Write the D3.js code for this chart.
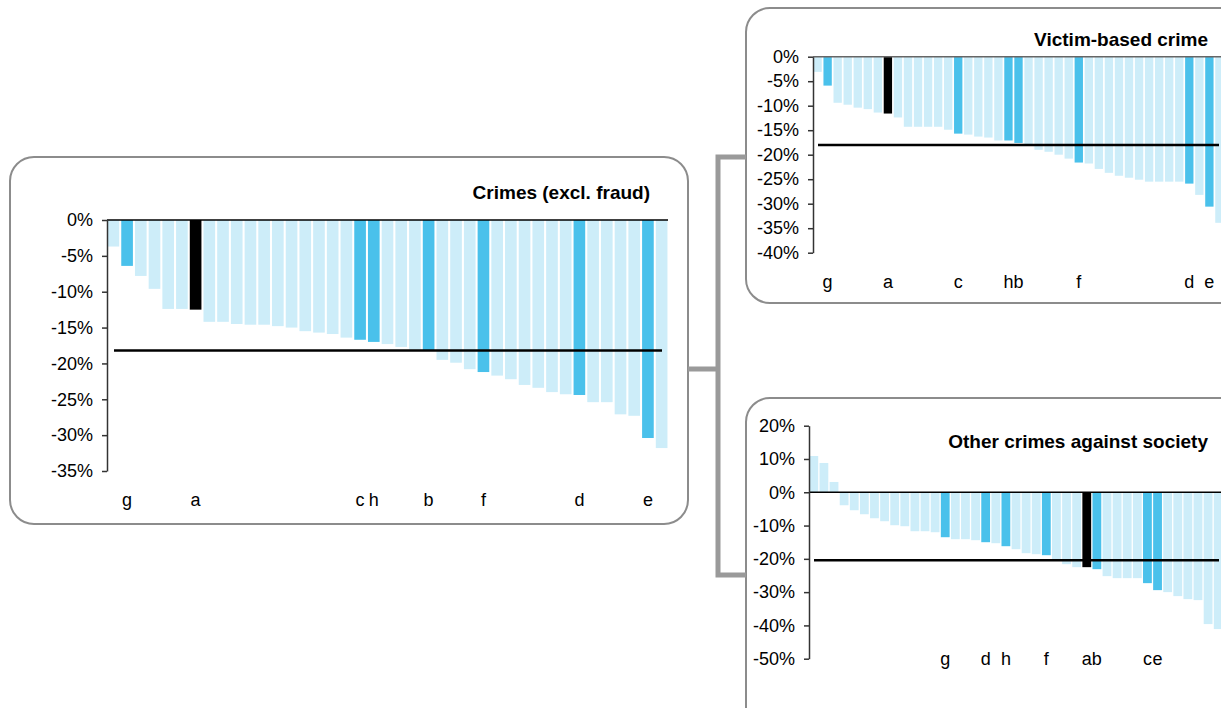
<!DOCTYPE html>
<html>
<head>
  <title>Crime change by area</title>
  <script src="https://d3js.org/d3.v7.min.js"></script>
  <style>
    body { margin: 0; background: #fff; }
    svg text { font-family: "Liberation Sans", Arial, sans-serif; fill: #000; }
    .tick text { font-size: 18px; }
    .title { font-size: 19px; font-weight: bold; }
    .cat { font-size: 18px; }
  </style>
</head>
<body>
<div id="chart"></div>
<script>
// Crimes (excl. fraud) - % change, 41 areas sorted
const mainValues = [-3.7, -6.4, -7.8, -9.6, -12.4, -12.4, -12.5, -14.2, -14.2, -14.5, -14.6, -14.6, -14.8, -15.0,
  -15.5, -15.7, -15.9, -16.4, -16.7, -17.0, -17.3, -17.7, -18.1, -18.2, -19.5, -19.9, -20.8, -21.2, -21.7,
  -22.2, -23.0, -23.4, -24.0, -24.3, -24.4, -25.4, -25.4, -27.1, -27.3, -30.4, -31.8];
const mainLabels = ["", "g", "", "", "", "", "a", "", "", "", "", "", "", "", "", "", "", "", "c", "h", "", "", "", "b",
  "", "", "", "f", "", "", "", "", "", "", "d", "", "", "", "", "e", ""];
const mainAverage = -18.2;
const mainTicks = [0, -5, -10, -15, -20, -25, -30, -35];

// Victim-based crime
const victimValues = [-3.1, -5.9, -9.4, -9.8, -10.4, -10.7, -11.4, -11.6, -12.4, -14.3, -14.3, -14.3, -14.3, -14.9,
  -15.7, -15.9, -16.3, -16.5, -17.1, -17.1, -17.6, -18.0, -19.0, -19.4, -20.0, -20.8, -21.6, -21.8, -22.9,
  -23.7, -24.3, -24.7, -25.1, -25.5, -25.5, -25.5, -25.5, -25.9, -28.2, -30.6, -33.9];
const victimLabels = ["", "g", "", "", "", "", "", "a", "", "", "", "", "", "", "c", "", "", "", "", "h", "b", "", "", "",
  "", "", "f", "", "", "", "", "", "", "", "", "", "", "d", "", "e", ""];
const victimAverage = -18.0;
const victimTicks = [0, -5, -10, -15, -20, -25, -30, -35, -40];

// Other crimes against society
const societyValues = [10.9, 8.8, 3.1, -3.9, -5.4, -6.6, -7.8, -8.7, -9.9, -10.2, -11.7, -11.7, -12.0, -13.5,
  -14.1, -14.1, -14.4, -15.0, -15.3, -16.2, -17.1, -18.3, -18.6, -18.9, -20.2, -21.6, -22.5, -22.5, -23.1,
  -25.2, -25.8, -25.8, -25.8, -27.3, -29.4, -30.0, -31.2, -32.1, -32.4, -39.6, -41.1];
const societyLabels = ["", "", "", "", "", "", "", "", "", "", "", "", "", "g", "", "", "", "d", "", "h", "", "", "", "f",
  "", "", "", "a", "b", "", "", "", "", "c", "e", "", "", "", "", "", ""];
const societyAverage = -20.4;
const societyTicks = [20, 10, 0, -10, -20, -30, -40, -50];

const LIGHT = "#cdedf9", BLUE = "#4ac1eb", BOX = "#8c8c8c", BRACKET = "#9a9a9a";

const svg = d3.select("#chart").append("svg")
  .attr("width", 1221)
  .attr("height", 708);

// panel boxes
svg.append("rect").attr("x", 10).attr("y", 157).attr("width", 678).attr("height", 367)
  .attr("rx", 24).attr("fill", "none").attr("stroke", BOX).attr("stroke-width", 2);
svg.append("rect").attr("x", 746).attr("y", 8).attr("width", 500).attr("height", 295)
  .attr("rx", 24).attr("fill", "none").attr("stroke", BOX).attr("stroke-width", 2);
svg.append("rect").attr("x", 746).attr("y", 398).attr("width", 500).attr("height", 340)
  .attr("rx", 24).attr("fill", "none").attr("stroke", BOX).attr("stroke-width", 2);

// bracket connecting the panels
svg.append("path")
  .attr("d", "M688,369H718M746,157H718V575H746")
  .attr("fill", "none").attr("stroke", BRACKET).attr("stroke-width", 5);

function drawPanel(opt) {
  const idx = d3.range(opt.values.length);
  const x = d3.scaleBand().domain(idx).range(opt.xRange)
    .paddingInner(opt.pad).paddingOuter(0.04);
  const y = d3.scaleLinear().domain(opt.domain).range(opt.yRange);
  const g = svg.append("g");

  g.selectAll(".bar").data(idx).enter().append("rect")
    .attr("class", "bar")
    .attr("x", i => x(i))
    .attr("width", x.bandwidth())
    .attr("y", i => y(Math.max(0, opt.values[i])))
    .attr("height", i => Math.abs(y(opt.values[i]) - y(0)))
    .attr("fill", i => opt.labels[i] === "a" ? "#000" : (opt.labels[i] ? BLUE : LIGHT));

  // zero line
  g.append("line")
    .attr("x1", opt.xRange[0]).attr("x2", opt.zeroEnd)
    .attr("y1", y(0)).attr("y2", y(0))
    .attr("stroke", opt.zeroColor).attr("stroke-width", 1.5);

  // average line
  g.append("line")
    .attr("x1", opt.avgFrom).attr("x2", opt.avgTo)
    .attr("y1", y(opt.average)).attr("y2", y(opt.average))
    .attr("stroke", "#000").attr("stroke-width", 2.5);

  const axis = g.append("g")
    .attr("transform", "translate(" + opt.xRange[0] + ",0)")
    .call(d3.axisLeft(y).tickValues(opt.ticks).tickSize(5).tickSizeOuter(0).tickPadding(9)
      .tickFormat(d => d + "%"));
  axis.select(".domain").attr("stroke", "#333").attr("stroke-width", 1.5);
  axis.selectAll(".tick line").attr("stroke", "#333").attr("stroke-width", 1.5);
  axis.selectAll(".tick text").attr("font-family", null).attr("font-size", null);

  g.selectAll(".cat").data(idx.filter(i => opt.labels[i])).enter().append("text")
    .attr("class", "cat")
    .attr("x", i => x(i) + x.bandwidth() / 2)
    .attr("y", opt.labelY)
    .attr("text-anchor", "middle")
    .text(i => opt.labels[i]);

  g.append("text").attr("class", "title")
    .attr("x", opt.titleX).attr("y", opt.titleY)
    .attr("text-anchor", "end")
    .text(opt.title);
}

drawPanel({
  values: mainValues, labels: mainLabels, average: mainAverage, ticks: mainTicks,
  domain: [-35, 0], yRange: [471, 220], xRange: [107, 668], pad: 0.15,
  zeroEnd: 668, zeroColor: "#000", avgFrom: 114, avgTo: 662,
  labelY: 506, title: "Crimes (excl. fraud)", titleX: 650, titleY: 199
});

drawPanel({
  values: victimValues, labels: victimLabels, average: victimAverage, ticks: victimTicks,
  domain: [-40, 0], yRange: [252.7, 56.7], xRange: [813, 1224], pad: 0.17,
  zeroEnd: 1221, zeroColor: "#666", avgFrom: 818, avgTo: 1219,
  labelY: 288, title: "Victim-based crime", titleX: 1208, titleY: 46
});

drawPanel({
  values: societyValues, labels: societyLabels, average: societyAverage, ticks: societyTicks,
  domain: [-50, 20], yRange: [658.7, 425.7], xRange: [809, 1223], pad: 0.13,
  zeroEnd: 1221, zeroColor: "#000", avgFrom: 814, avgTo: 1219,
  labelY: 665, title: "Other crimes against society", titleX: 1208, titleY: 448
});
</script>
</body>
</html>
